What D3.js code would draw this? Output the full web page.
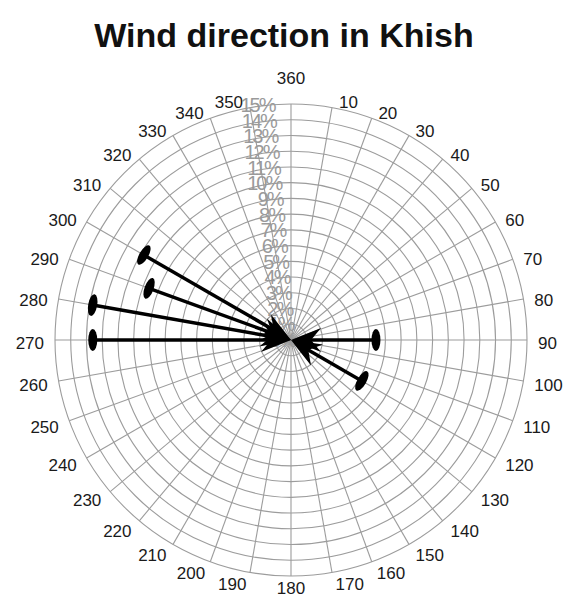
<!DOCTYPE html>
<html>
<head>
<meta charset="utf-8">
<script src="https://cdn.jsdelivr.net/npm/d3@7"></script>
<style>
  html, body { margin: 0; padding: 0; background: #fff; }
  svg { display: block; font-family: "Liberation Sans", Arial, sans-serif; }
</style>
</head>
<body>
<svg id="chart" width="570" height="607"></svg>
<script>
// wind data: direction the wind comes from (deg) and share of observations (%)
const directions = [270, 280, 290, 300, 90, 120];
const frequencies = [12.6, 12.8, 9.6, 10.8, 5.4, 5.2];

const angleTicks = d3.range(10, 361, 10); // 10 .. 360
const ringTicks = d3.range(0, 16, 1);     // 0% .. 15%

const cx = 291, cy = 340, R = 236;

const svg = d3.select('#chart');

const r = d3.scaleLinear().domain([0, 15]).range([0, R]);
const a = d3.scaleLinear().domain([0, 360]).range([0, 2 * Math.PI]);

// polar -> screen, 0 deg at north, clockwise
const px = (deg, rad) => cx + rad * Math.sin(a(deg));
const py = (deg, rad) => cy - rad * Math.cos(a(deg));

svg.append('text')
  .attr('x', 284)
  .attr('y', 47)
  .attr('text-anchor', 'middle')
  .attr('font-size', 34)
  .attr('font-weight', 'bold')
  .attr('fill', '#111')
  .text('Wind direction in Khish');

const grid = svg.append('g').attr('fill', 'none').attr('stroke', '#9c9c9c').attr('stroke-width', 1.1);

grid.selectAll('circle')
  .data(ringTicks.filter(d => d > 0))
  .enter().append('circle')
  .attr('cx', cx)
  .attr('cy', cy)
  .attr('r', d => r(d));

grid.selectAll('line')
  .data(angleTicks)
  .enter().append('line')
  .attr('x1', cx)
  .attr('y1', cy)
  .attr('x2', d => px(d, R))
  .attr('y2', d => py(d, R));

// direction labels round the outside
const dirLabels = svg.append('g').attr('font-size', 17).attr('fill', '#1a1a1a');
angleTicks.forEach(d => {
  const s = Math.sin(a(d)), c = Math.cos(a(d));
  const side = Math.abs(s) < 0.05 ? 0 : Math.sign(s);
  const x = px(d, R + 9) + side * (2 + 40 * Math.max(0, c - 0.9));
  let y = py(d, R + 9) + 3;
  if (side === 0 && c > 0) y -= 20; // the 360 label sits higher
  dirLabels.append('text')
    .attr('x', x)
    .attr('y', y)
    .attr('dy', '0.35em')
    .attr('text-anchor', side > 0 ? 'start' : side < 0 ? 'end' : 'middle')
    .text(d);
});

// percentage labels along the 355 deg spoke
svg.append('g')
  .attr('font-size', 20)
  .attr('fill', '#9a9a9a')
  .attr('letter-spacing', -2)
  .selectAll('text')
  .data(ringTicks)
  .enter().append('text')
  .attr('x', d => px(355, r(d)) + 4)
  .attr('y', d => py(355, r(d)))
  .attr('dy', '0.35em')
  .attr('text-anchor', 'end')
  .text(d => d + '%');

// arrows: tail ellipse at the frequency, head at the centre
const arrows = svg.append('g');
const data = directions.map((d, i) => ({dir: d, pct: frequencies[i]}));

arrows.selectAll('line')
  .data(data)
  .enter().append('line')
  .attr('x1', d => px(d.dir, r(d.pct)))
  .attr('y1', d => py(d.dir, r(d.pct)))
  .attr('x2', d => px(d.dir, 14))
  .attr('y2', d => py(d.dir, 14))
  .attr('stroke', '#000')
  .attr('stroke-width', 3.5);

arrows.selectAll('ellipse')
  .data(data)
  .enter().append('ellipse')
  .attr('rx', 4.5)
  .attr('ry', 11)
  .attr('fill', '#000')
  .attr('transform', d => `translate(${px(d.dir, r(d.pct))},${py(d.dir, r(d.pct))}) rotate(${d.dir - 90})`);

// arrow head drawn pointing along +x toward the tip, rotated per direction
arrows.selectAll('path')
  .data(data)
  .enter().append('path')
  .attr('d', 'M0,0 L-30,-12 L-20,0 L-30,12 Z')
  .attr('fill', '#000')
  .attr('transform', d => `translate(${cx},${cy}) rotate(${d.dir + 90})`);
</script>
</body>
</html>
